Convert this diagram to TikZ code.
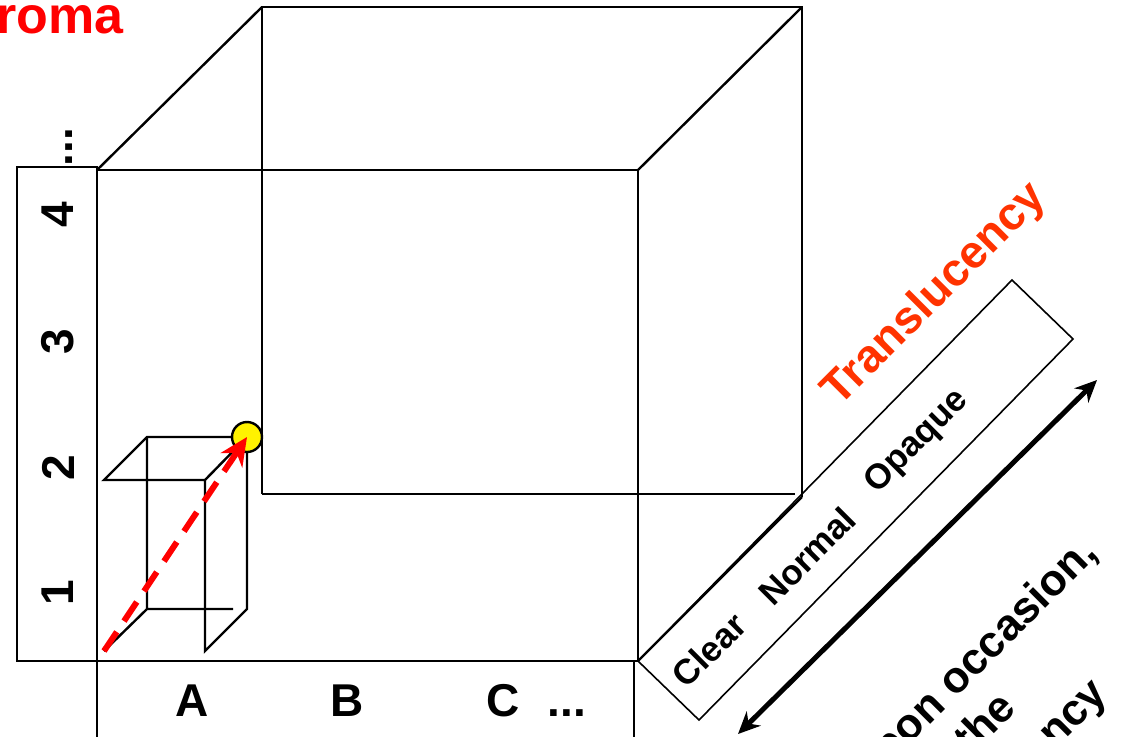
\documentclass[tikz,border=0pt]{standalone}
\usepackage{fontspec}
\setmainfont{Liberation Sans}
\usetikzlibrary{arrows.meta}
\definecolor{translorange}{RGB}{255,51,0}

\begin{document}
\begin{tikzpicture}[x=0.5pt,y=-0.5pt,line width=1.2pt,
  axis label/.style={font=\fontsize{23}{23}\selectfont\bfseries,inner sep=0pt},
  level label/.style={font=\fontsize{17.5}{17.5}\selectfont\bfseries,rotate=45,inner sep=0pt},
  note label/.style={font=\fontsize{22}{22}\selectfont\bfseries,rotate=45,inner sep=0pt,anchor=base east}]

  \clip (0,0) rectangle (1122,736);

  % big cube
  \coordinate (f1) at (97,170);
  \coordinate (f3) at (638,661);
  \coordinate (f2) at (638,170);
  \coordinate (b1) at (262,7);
  \coordinate (b2) at (802,7);
  \coordinate (b3) at (802,497);
  \coordinate (b4) at (262,494);
  \coordinate (b5) at (795,494);
  \draw (f1) rectangle (f3);
  \draw (b4) -- (b1) -- (b2) -- (b3);
  \draw (b4) -- (b5);
  \draw (f1) -- (b1) (f2) -- (b2) (f3) -- (b3);

  % chroma axis
  \draw (17,167) rectangle (97,661);
  \foreach \n/\y in {1/593,2/468,3/342,4/215}
    \node[axis label,rotate=90] (c\n) at (58,\y) {\n};
  \node[axis label,rotate=90] (cdots) at (69,147) {...};
  \node[font=\fontsize{26}{26}\selectfont\bfseries,text=red,inner sep=0pt,anchor=base east] (chroma) at (125,33) {Chroma};

  % hue axis
  \draw (97,661) rectangle (634,760);
  \node[axis label,anchor=base] (hA) at (192,716) {A};
  \node[axis label,anchor=base] (hB) at (347,716) {B};
  \node[axis label,anchor=base] (hC) at (503,716) {C};
  \node[axis label,anchor=base] (hdots) at (567,716) {...};

  % translucency axis
  \coordinate (t1) at (638,661);
  \coordinate (t2) at (1012,280);
  \coordinate (t3) at (1073,339);
  \coordinate (t4) at (699,720);
  \draw[line width=0.8pt] (t1) -- (t2) -- (t3) -- (t4) -- cycle;
  \node[level label] (clear) at (709,650) {Clear};
  \node[level label] (normal) at (807,556) {Normal};
  \node[level label] (opaque) at (917,442) {Opaque};
  \node[font=\fontsize{23}{23}\selectfont\bfseries,text=translorange,rotate=45,inner sep=0pt] (transl) at (935,295) {Translucency};

  \coordinate (a1) at (738,734);
  \coordinate (a2) at (1097,380);
  \draw[{Stealth[length=11pt,width=10pt]}-{Stealth[length=11pt,width=10pt]},line width=2.5pt] (a1) -- (a2);

  \node[note label] (n1) at (1100,554) {Upon occasion,};
  \node[note label] (n2) at (1019,709) {the};
  \node[note label] (n3) at (1110,695) {translucency};

  % small cube
  \coordinate (s1) at (104,480);
  \coordinate (s2) at (205,480);
  \coordinate (s3) at (205,651);
  \coordinate (s4) at (104,651);
  \coordinate (s5) at (147,437);
  \coordinate (s6) at (247,437);
  \coordinate (s7) at (247,609);
  \coordinate (s8) at (147,609);
  \coordinate (s9) at (233,609);
  \draw (s1) -- (s2) -- (s3) -- (s7) -- (s6) -- (s5) -- cycle;
  \draw (s2) -- (s6) (s5) -- (s8) -- (s9) (s8) -- (s4);

  \node[circle,draw,fill=yellow,minimum size=15pt,inner sep=0pt] (dot) at (247,437) {};
  \draw[red,line width=3pt,dash pattern=on 11.5pt off 6.5pt,-{Stealth[length=14pt,width=13pt]}] (s4) -- (dot.center);
\end{tikzpicture}
\end{document}
